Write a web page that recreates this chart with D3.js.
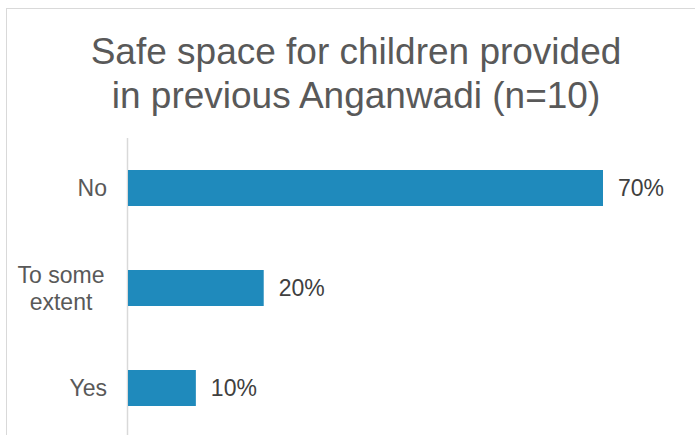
<!DOCTYPE html>
<html><head><meta charset="utf-8">
<script src="https://cdn.jsdelivr.net/npm/d3@7"></script>
<style>body{margin:0;background:#fff;}svg{display:block;font-family:"Liberation Sans",Arial,sans-serif;}</style>
</head><body>
<script>
const categories = [["No"], ["To some", "extent"], ["Yes"]];
const values = [70, 20, 10];
const valueLabels = ["70%", "20%", "10%"];
const titleLines = ["Safe space for children provided", "in previous Anganwadi (n=10)"];

const W = 695, H = 435;
const svg = d3.select("body").append("svg").attr("width", W).attr("height", H);
svg.append("rect").attr("x", 6.5).attr("y", 8.5).attr("width", 800).attr("height", 600)
  .attr("fill", "#fff").attr("stroke", "#d9d9d9").attr("stroke-width", 1);

const t = svg.append("text").attr("text-anchor", "middle").attr("fill", "#595959").attr("font-size", 37);
titleLines.forEach((l, i) => t.append("tspan").attr("x", 356).attr("y", 64 + i * 44).text(l));

const x = d3.scaleLinear().domain([0, 70]).range([128, 603]);
const y = d3.scaleBand().domain(d3.range(categories.length)).range([138, 438]).paddingInner(0.64).paddingOuter(0.32);

svg.append("line").attr("x1", 127.5).attr("x2", 127.5).attr("y1", 138).attr("y2", 435)
  .attr("stroke", "#d9d9d9").attr("stroke-width", 1.5);

svg.selectAll("rect.bar").data(values).join("rect").attr("class", "bar")
  .attr("x", x(0)).attr("y", (d, i) => y(i)).attr("width", d => x(d) - x(0)).attr("height", y.bandwidth())
  .attr("fill", "#1f8abc");

svg.selectAll("text.val").data(values).join("text").attr("class", "val")
  .attr("x", d => x(d) + 15).attr("y", (d, i) => y(i) + y.bandwidth() / 2 + 8)
  .attr("font-size", 23).attr("fill", "#404040").text((d, i) => valueLabels[i]);

categories.forEach((lines, i) => {
  const cy = y(i) + y.bandwidth() / 2;
  const g = svg.append("text").attr("font-size", 23).attr("fill", "#595959");
  if (lines.length === 1) {
    g.attr("text-anchor", "end").attr("x", 107).attr("y", cy + 8).text(lines[0]);
  } else {
    g.attr("text-anchor", "middle");
    lines.forEach((l, k) => g.append("tspan").attr("x", 61).attr("y", cy + 8 + (k - (lines.length - 1) / 2) * 27).text(l));
  }
});
</script>
</body></html>
